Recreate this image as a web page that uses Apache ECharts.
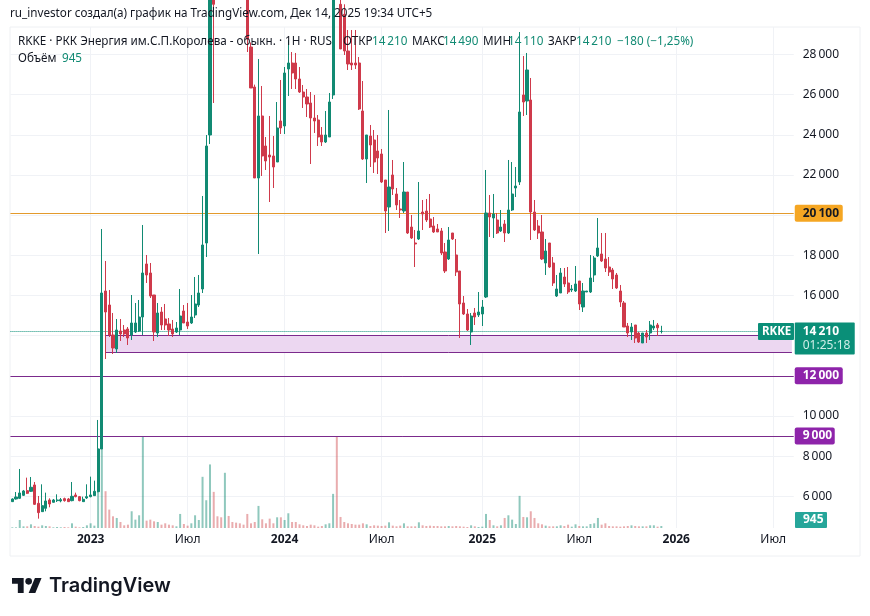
<!DOCTYPE html>
<html><head><meta charset="utf-8">
<style>html,body{margin:0;padding:0;background:#fff}#c{width:870px;height:616px}</style>
<script src="https://cdn.jsdelivr.net/npm/echarts@6/dist/echarts.min.js"></script>
</head><body><div id="c"></div>
<script>
const tickIndex = [21,47,73,99,126,152,178,204];
const tickLabels = ['2023','Июл','2024','Июл','2025','Июл','2026','Июл'];
const priceTicks = [6000,8000,10000,12000,14000,16000,18000,20000,22000,24000,26000,28000];
const opens = [5733,5866,5899,6048,6281,6248,6563,5650,5235,5401,
5816,5700,5783,5766,5882,5866,5783,6065,5982,5733,
5916,5982,6032,6231,8355,16223,15526,14032,13335,14231,
14281,14331,14032,14181,14231,14928,17568,17120,16024,14132,
15177,14829,14580,14331,14181,14281,15227,14679,14630,15028,
15526,16323,18614,23992,32000,33500,33000,31500,36500,35000,
34000,33000,32500,31000,28374,26382,21851,24938,23444,22996,
22946,22647,24689,24440,27279,27578,27578,26781,26133,25884,
25586,24839,24739,23992,23643,23893,25984,32000,30500,30000,
28175,27578,27578,27578,25187,22797,23942,23743,23195,23046,
21751,20406,22000,21054,20307,20207,21153,19410,18614,18813,
20157,20207,19809,19460,19311,19211,18165,17817,19112,18016,
17219,15626,15078,14181,15128,15028,15078,15924,20108,19859,
19759,19211,19560,19112,20257,21353,21651,25984,25685,25735,
20157,19460,19162,17618,18614,17618,15974,16124,16920,16622,
16273,16223,16721,15426,16173,16173,17020,17966,18066,17817,
17418,17269,17020,16223,15626,14480,14181,14530,14131,13634,
14131,14131,14381,14530,14210];
const closes = [5866,5965,6165,6264,6148,6447,5600,5185,5534,5766,
5617,5816,5816,5833,5783,5733,5998,5982,5783,5849,
5982,6065,6248,8356,16124,15177,14032,13385,14281,14082,
14082,13883,14630,14630,14928,17120,17020,15974,14181,15128,
14530,14530,14281,14082,14381,14978,14630,14480,14928,15576,
16124,18514,23444,31200,30500,32500,31500,36000,35000,34000,
33000,32000,31000,28773,26333,21851,24938,22946,22697,22896,
22398,24341,24341,27080,27578,27080,26781,26133,25884,25536,
24839,24689,23893,23643,23992,25635,31000,30500,28275,28175,
27528,27478,27478,25287,22797,23992,23494,22647,22847,21651,
20207,21402,21303,20506,20257,21153,19112,18863,18564,19211,
20058,19759,19410,19162,19162,18116,17219,18763,18813,17169,
15576,15078,14281,14978,14928,15177,15426,20108,19909,20058,
19112,19410,19112,20257,21054,21452,25137,25635,27229,20157,
19261,19112,17817,18215,17418,16622,16323,17120,16572,16173,
16323,16572,15576,16223,16223,16871,17867,18365,17717,17369,
17169,16821,16373,15675,14430,14131,14430,13883,13683,14131,
13932,14530,14480,14390,14210];
const highs = [5899,6214,7360,6314,6928,6961,6712,6015,6596,6181,
5899,5866,6098,5916,5932,5916,6712,6181,6015,5982,
6596,6978,6779,9800,19311,17717,16273,15128,14829,14829,
14530,14430,16024,15626,15775,19510,18016,17618,16024,15626,
15426,15576,14879,14779,14680,16323,15526,15626,16024,16920,
17020,20954,23992,32000,33000,35000,34000,37500,37000,35500,
34500,33500,33000,31500,28600,26500,27777,26432,23892,24938,
23942,25635,26731,27378,28723,28125,28076,27378,26482,26283,
26133,25984,24988,24390,25187,26084,31500,32500,30800,30500,
29221,29221,29221,27876,26681,23992,24490,24241,23992,23295,
21751,25237,22747,21353,20755,22647,21153,20008,19261,21651,
20755,20805,21054,19908,19560,19361,18614,19410,19112,18813,
17219,15974,15327,15128,15377,16173,15775,22249,21004,21054,
20108,20257,19759,22747,22647,22398,29121,27926,28076,26831,
20755,19759,20008,18813,18614,17916,17020,17369,17369,17418,
16522,17468,16721,16622,16223,18016,17966,19859,19112,19112,
17916,17369,17120,16522,15725,14630,14630,14530,14181,14131,
14281,14729,14779,14630,14490];
const lows = [5716,5833,5866,6015,6115,6214,5567,4886,5218,5252,
5451,5683,5716,5700,5733,5716,5750,5949,5750,5716,
5866,5949,6015,6198,8355,12837,13932,13086,13135,13733,
13932,13534,13783,14132,14181,14032,16622,15875,13733,13932,
14281,14281,13982,13932,14132,14032,14630,14331,14580,14879,
15426,16124,17916,23544,25586,31000,30500,30800,34000,33500,
32500,31500,30500,28125,26333,21851,18066,21950,22249,20655,
21353,22647,24042,24042,25934,26283,26283,26084,25337,24888,
22548,24092,23444,23444,23594,23893,25785,30000,28275,27976,
27229,27229,27279,25237,22747,21602,22398,22100,22050,21602,
19112,19211,21004,20257,19859,20108,19062,18813,17418,18763,
19261,19659,19361,19112,19162,18016,17120,17767,18763,16970,
13883,15028,14231,13534,14530,14928,14480,15875,18913,18863,
19062,19162,18663,19062,20207,20904,21502,24938,24988,18763,
19211,18813,17767,17020,17369,16473,15924,16124,16423,16074,
16173,16173,15277,15178,16173,16124,16671,17916,17668,17169,
16970,16323,16323,15426,14430,13932,13783,13634,13634,13634,
13634,13783,14281,13982,14110];
const volumes = [320,320,3840,800,800,1760,960,640,1280,960,
800,320,480,320,480,320,2240,640,320,480,
1280,2240,1120,38000,44000,17600,8800,5600,4800,2880,
1280,1600,8000,4000,6080,44000,3520,4000,3200,2880,
1600,2240,1600,1280,800,6720,1920,1120,2240,6080,
3840,24480,13280,30400,17280,5600,5120,26400,5760,2880,
2560,2240,1600,6720,2240,2880,10560,4160,2240,4480,
2240,5120,5120,3840,7040,2880,2880,1760,1280,960,
1600,1280,640,960,1760,2240,16320,44000,5280,2880,
2240,1920,1600,1600,2240,1760,960,1280,1120,960,
1120,2720,1120,800,1120,2240,800,800,800,2720,
1280,960,1120,960,960,800,800,960,800,960,
800,640,480,1280,800,480,640,6720,3840,1280,
800,1280,4800,6080,4000,1920,15360,5280,5120,8000,
4800,2240,1760,1120,800,800,800,1280,960,1600,
640,1760,960,800,800,1920,2240,4800,1600,2240,
960,800,800,640,800,960,1280,960,800,800,
800,1280,1280,640,945];
const lastPrice = 14210, orangeLevel = 20100, purpleLevels = [12000, 9000];
const zoneTop = 14000, zoneBottom = 13150, zoneStart = 25;

const slotCount = 210;
const firstWeek = Date.UTC(2022,7,8);
const categories = [];
for (let i=0;i<slotCount;i++) categories.push(new Date(firstWeek+i*7*864e5).toISOString().slice(0,10));

const UP='#118a73', DOWN='#cf3a4b', ORANGE='#e39a2c', PURPLE='#7b2a8c', TAG_PURPLE='#8e24aa', TAG_ORANGE='#f5a623', TEAL='#0a8f78';
const FONT='"Noto Sans", sans-serif', INK='#131722';
const fmt = v => String(v).replace(/\B(?=(\d{3})+$)/g,'\u202f');
const last = categories[slotCount-1];
const tagLabel = (text,bg,color,w) => ({show:true,position:'end',distance:1,formatter:text,backgroundColor:bg,color:color,
  padding:[3,6,2,8],borderRadius:2,fontSize:12,fontFamily:FONT,fontWeight:'bold',width:w});
const levelSeries = (color,type,data,label) => ({type:'line',xAxisIndex:0,yAxisIndex:0,data:[],silent:true,z:2,showSymbol:false,
  markLine:{silent:true,symbol:'none',animation:false,precision:0,z:2,
    lineStyle:{color:color,type:type,width:1},label:label||{show:false},data:data}});

const candleData = opens.map((o,i)=>[o,closes[i],lows[i],highs[i]]);
const volumeData = volumes.map((v,i)=>({value:v,itemStyle:{color: closes[i]>=opens[i] ? 'rgba(17,138,115,0.47)' : 'rgba(207,70,75,0.45)'}}));

const chart = echarts.init(document.getElementById('c'),null,{renderer:'canvas'});
const txt = (x,y,t,color,extra) => ({type:'text',x,y,z:50,silent:true,style:Object.assign({text:t,fill:color||INK,font:'11.7px '+FONT,textVerticalAlign:'middle'},extra||{})});
const logoX=12, logoY=578, logoK=0.833;
const poly = pts => ({type:'polygon',z:50,silent:true,shape:{points:pts.map(p=>[logoX+p[0]*logoK,logoY+(p[1]-4)*logoK])},style:{fill:'#131722'}});
chart.setOption({
  animation:false,
  backgroundColor:'#fff',
  grid:[
    {left:10.44,right:76.26,top:27,bottom:88,show:false},
    {left:10.44,right:76.26,top:436,bottom:88,show:false}
  ],
  xAxis:[
    {type:'category',gridIndex:0,data:categories,boundaryGap:true,
     axisLine:{show:false},axisTick:{show:false},
     splitLine:{show:true,alignWithLabel:true,interval:i=>tickIndex.includes(i),lineStyle:{color:'#f0f2f6',width:1}},
     axisLabel:{show:true,interval:i=>tickIndex.includes(i),margin:6,fontFamily:FONT,fontSize:12,color:INK,
       formatter:(v,i)=>{const k=tickIndex.indexOf(i);if(k<0)return '';const s=tickLabels[k];return /\d/.test(s)?'{y|'+s+'}':s;},
       rich:{y:{fontFamily:FONT,fontSize:12,fontWeight:'bold',color:INK}}}},
    {type:'category',gridIndex:1,data:categories,boundaryGap:true,show:false}
  ],
  yAxis:[
    {type:'value',gridIndex:0,position:'right',min:4420.6,max:29370,scale:true,
     axisLine:{show:false},
     axisTick:{show:false,customValues:priceTicks},
     splitLine:{show:true,lineStyle:{color:'#f0f2f6',width:1}},
     axisLabel:{customValues:priceTicks,margin:9,align:'left',fontFamily:FONT,fontSize:12,color:INK,formatter:v=>fmt(v)}},
    {type:'value',gridIndex:1,min:0,max:44000,show:false}
  ],
  series:[
    {type:'bar',name:'Объём',xAxisIndex:1,yAxisIndex:1,data:volumeData,barWidth:2,z:1,silent:true},
    {type:'candlestick',name:'RKKE',xAxisIndex:0,yAxisIndex:0,data:candleData,barWidth:2.6,z:3,silent:true,clip:true,
     itemStyle:{color:UP,color0:DOWN,borderColor:UP,borderColor0:DOWN,borderColorDoji:UP,borderWidth:1},
     markArea:{silent:true,z:2,itemStyle:{color:'#ecd7f1'},
       data:[[{xAxis:categories[zoneStart],yAxis:zoneTop},{xAxis:last,yAxis:zoneBottom}]]}},
    levelSeries(ORANGE,'solid',[{yAxis:orangeLevel}],tagLabel(fmt(orangeLevel),TAG_ORANGE,'#131722',34)),
    levelSeries(PURPLE,'solid',[{yAxis:purpleLevels[0]}],tagLabel(fmt(purpleLevels[0]),TAG_PURPLE,'#fff',34)),
    levelSeries(PURPLE,'solid',[{yAxis:purpleLevels[1]}],tagLabel(fmt(purpleLevels[1]),TAG_PURPLE,'#fff',26)),
    levelSeries(PURPLE,'solid',[
       [{coord:[categories[zoneStart],zoneTop]},{coord:[last,zoneTop]}],
       [{coord:[categories[zoneStart],zoneBottom]},{coord:[last,zoneBottom]}]]),
    levelSeries(TEAL,'dotted',[{yAxis:lastPrice}],
      {show:true,position:'end',distance:1,offset:[0,7],backgroundColor:TEAL,padding:[2,6,2,8],borderRadius:1,
       formatter:'{a|'+fmt(lastPrice)+'}\n{b|01:25:18}',
       rich:{a:{color:'#fff',fontFamily:FONT,fontSize:12,fontWeight:'bold',lineHeight:14,width:46},
             b:{color:'#cfeee8',fontFamily:FONT,fontSize:12,lineHeight:14,width:46}}})
  ],
  graphic:[
    {type:'rect',z:-1,silent:true,shape:{x:10,y:27,width:850,height:529},style:{fill:'none',stroke:'#eef0f3',lineWidth:1}},
    txt(10,14,'ru_investor создал(а) график на TradingView.com, Дек 14, 2025 19:34 UTC+5'),
    txt(18,41.5,'RKKE · РКК Энергия им.С.П.Королева - обыкн. · 1Н · RUS'),
    txt(343,41.5,'ОТКР'),txt(372,41.5,'14\u202f210',UP),
    txt(412,41.5,'МАКС'),txt(443,41.5,'14\u202f490',UP),
    txt(483,41.5,'МИН'),txt(508,41.5,'14\u202f110',UP),
    txt(548,41.5,'ЗАКР'),txt(576,41.5,'14\u202f210',UP),
    txt(617,41.5,'−180 (−1,25%)',UP),
    txt(18,59,'Объём'),txt(62,59,'945',UP),
    {type:'rect',z:40,silent:true,shape:{x:758,y:323,width:36,height:17,r:1},style:{fill:TEAL}},
    txt(762,331.5,'RKKE','#fff',{font:'bold 11.5px '+FONT}),
    {type:'rect',z:40,silent:true,shape:{x:795,y:512,width:32,height:16,r:1},style:{fill:'#26a69a'}},
    txt(803,520,'945','#fff',{font:'bold 12px '+FONT}),
    poly([[14,22],[7,22],[7,11],[0,11],[0,4],[14,4]]),
    poly([[28,22],[20,22],[27.5,4],[35.5,4]]),
    {type:'circle',z:50,silent:true,shape:{cx:logoX+20*logoK,cy:logoY+4*logoK,r:4*logoK},style:{fill:'#131722'}},
    txt(49,586,'TradingView','#131722',{font:'600 20px Inter, sans-serif'})
  ]
});
</script></body></html>
